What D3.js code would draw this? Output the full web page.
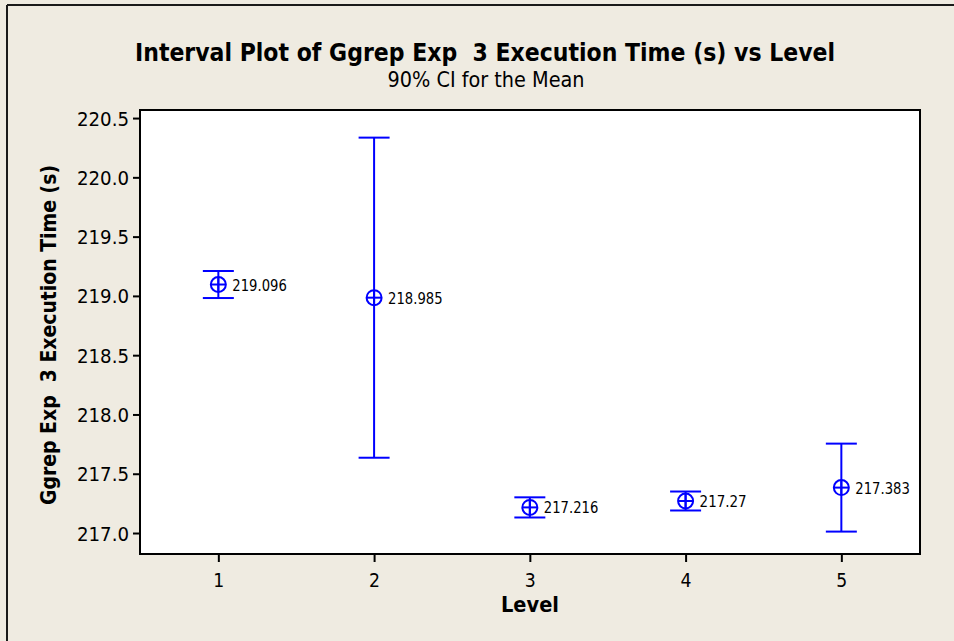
<!DOCTYPE html>
<html>
<head>
<meta charset="utf-8">
<script src="https://cdn.jsdelivr.net/npm/d3@7"></script>
<style>
  html, body { margin: 0; padding: 0; background: #EFEBE1; }
  svg { display: block; }
  text { font-family: "DejaVu Sans", Tahoma, sans-serif; fill: #000; white-space: pre; }
</style>
</head>
<body>
<svg id="chart" width="954" height="641"></svg>
<script>
// Level categories and 90% confidence intervals for the mean execution time
const levels = [1, 2, 3, 4, 5];
const means  = [219.096, 218.985, 217.216, 217.27, 217.383];
const lower  = [218.982, 217.635, 217.131, 217.190, 217.012];
const upper  = [219.210, 220.335, 217.301, 217.350, 217.754];
const yTicks = [217.0, 217.5, 218.0, 218.5, 219.0, 219.5, 220.0, 220.5];

const W = 954, H = 641;
const plot = { left: 140, top: 110, right: 920, bottom: 554 };
const blue = "#0000FF";

const svg = d3.select("#chart");

// Frame lines along the top and left edges of the figure
svg.append("line").attr("x1", 7).attr("x2", W).attr("y1", 5).attr("y2", 5)
  .attr("stroke", "#1a1a1a").attr("stroke-width", 2);
svg.append("line").attr("x1", 7).attr("x2", 7).attr("y1", 5).attr("y2", H)
  .attr("stroke", "#1a1a1a").attr("stroke-width", 2);

const x = d3.scaleLinear().domain([0.497, 5.505]).range([plot.left, plot.right]);
const y = d3.scaleLinear().domain([216.823, 220.568]).range([plot.bottom, plot.top]);

// Plot area
svg.append("rect")
  .attr("x", plot.left).attr("y", plot.top)
  .attr("width", plot.right - plot.left).attr("height", plot.bottom - plot.top)
  .attr("fill", "#fff").attr("stroke", "#000").attr("stroke-width", 2);

// Narrow the glyphs of a text element so it spans the given width
function squeeze(sel, width) {
  return sel.attr("textLength", width).attr("lengthAdjust", "spacingAndGlyphs");
}

// Axes
const yAxis = svg.append("g")
  .attr("transform", `translate(${plot.left},0)`)
  .call(d3.axisLeft(y).tickValues(yTicks).tickFormat(d3.format(".1f")).tickSize(7).tickPadding(4));
const xAxis = svg.append("g")
  .attr("transform", `translate(0,${plot.bottom})`)
  .call(d3.axisBottom(x).tickValues(levels).tickFormat(d3.format("d")).tickSize(8).tickPadding(6));
[yAxis, xAxis].forEach(g => {
  g.select(".domain").remove();
  g.selectAll(".tick line").attr("stroke", "#000").attr("stroke-width", 2);
  g.selectAll(".tick text").attr("font-size", 19.5)
    .style("font-family", "'DejaVu Sans', sans-serif");
});
yAxis.selectAll(".tick text").attr("dy", "0.36em").each(function () { squeeze(d3.select(this), 52); });
xAxis.selectAll(".tick text").attr("dy", "0.95em").each(function () { squeeze(d3.select(this), 11); });

// Intervals
const data = levels.map((lv, i) => ({ lv, m: means[i], lo: lower[i], hi: upper[i] }));
const cap = 15.5, r = 7.5;
const g = svg.append("g").attr("stroke", blue).attr("stroke-width", 2).attr("fill", "none");
data.forEach(d => {
  const cx = x(d.lv);
  g.append("line").attr("x1", cx).attr("x2", cx).attr("y1", y(d.hi)).attr("y2", y(d.lo));
  g.append("line").attr("x1", cx - cap).attr("x2", cx + cap).attr("y1", y(d.hi)).attr("y2", y(d.hi));
  g.append("line").attr("x1", cx - cap).attr("x2", cx + cap).attr("y1", y(d.lo)).attr("y2", y(d.lo));
  g.append("circle").attr("cx", cx).attr("cy", y(d.m)).attr("r", r);
  g.append("line").attr("x1", cx - r).attr("x2", cx + r).attr("y1", y(d.m)).attr("y2", y(d.m));
  g.append("line").attr("x1", cx).attr("x2", cx).attr("y1", y(d.m) - r).attr("y2", y(d.m) + r);
});

// Mean value labels
const fmt = v => String(+v.toFixed(3));
data.forEach(d => {
  const s = fmt(d.m);
  squeeze(svg.append("text")
    .attr("x", x(d.lv) + 14).attr("y", y(d.m) + 6)
    .attr("font-size", 16).text(s), s.length * 7.5 + 2);
});

// Titles
squeeze(svg.append("text").attr("x", 485).attr("y", 61).attr("text-anchor", "middle")
  .attr("font-size", 25).attr("font-weight", "bold")
  .text("Interval Plot of Ggrep Exp  3 Execution Time (s) vs Level"), 700);
squeeze(svg.append("text").attr("x", 486).attr("y", 87).attr("text-anchor", "middle")
  .attr("font-size", 20.5).text("90% CI for the Mean"), 197);
squeeze(svg.append("text").attr("x", 530).attr("y", 612).attr("text-anchor", "middle")
  .attr("font-size", 21).attr("font-weight", "bold").text("Level"), 58);
squeeze(svg.append("text").attr("transform", "translate(56,335) rotate(-90)").attr("text-anchor", "middle")
  .attr("font-size", 21.5).attr("font-weight", "bold")
  .text("Ggrep Exp  3 Execution Time (s)"), 340);
</script>
</body>
</html>
